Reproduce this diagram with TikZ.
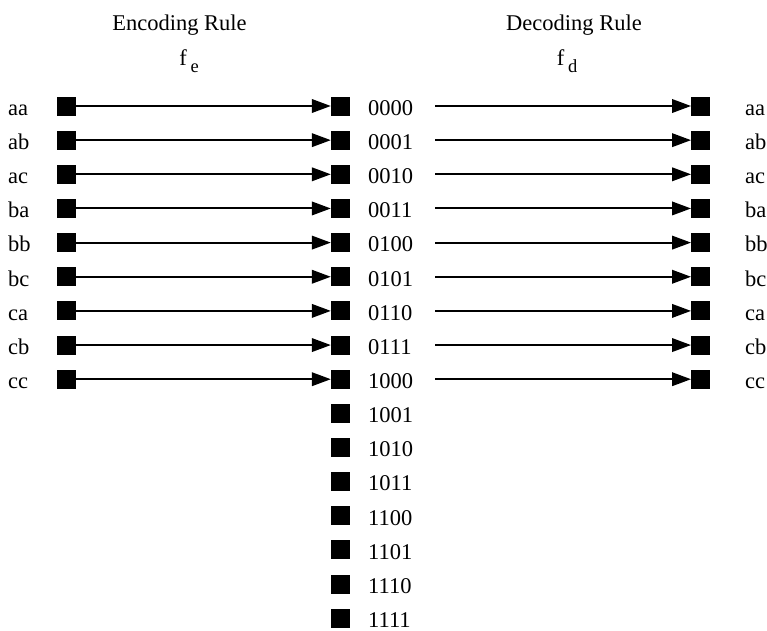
\documentclass[tikz,border=0pt]{standalone}
\usepackage{fontspec}
\setmainfont{Liberation Serif}
\usetikzlibrary{arrows.meta}
\begin{document}
\begin{tikzpicture}[x=1pt,y=-1pt,
  sq/.style={fill=black,draw=none,inner sep=0pt,minimum width=18.5pt,minimum height=19pt},
  lab/.style={anchor=base west,inner sep=0pt,font=\fontsize{22.5}{26}\selectfont},
  head/.style={anchor=base,inner sep=0pt,font=\fontsize{22.5}{26}\selectfont},
  conn/.style={line width=2pt,-{Triangle[length=19pt,width=13.5pt]}}]
\useasboundingbox (0,0) rectangle (767,630);
\node[head] (enc) at (179.5,30) {Encoding Rule};
\node[head] (dec) at (574,30) {Decoding Rule};
\node[head] (fe) at (189,65) {f\,\raisebox{-7.5pt}{\fontsize{18.5}{19}\selectfont e}};
\node[head] (fd) at (567,65) {f\,\raisebox{-7.5pt}{\fontsize{18.5}{19}\selectfont d}};
\foreach \t [count=\i from 0] in {aa,ab,ac,ba,bb,bc,ca,cb,cc}{
  \pgfmathsetmacro{\yy}{106+34.15*\i}
  \node[sq] (L\i) at (66.5,\yy) {};
  \node[lab] (LT\i) at (8,\yy+9.3) {\t};
  \node[sq] (R\i) at (700.5,\yy) {};
  \node[lab] (RT\i) at (745,\yy+9.3) {\t};
  \coordinate (S\i) at (435,\yy);
}
\foreach \t [count=\i from 0] in {0000,0001,0010,0011,0100,0101,0110,0111,1000,1001,1010,1011,1100,1101,1110,1111}{
  \pgfmathsetmacro{\yy}{106+34.15*\i}
  \node[sq] (M\i) at (340.3,\yy) {};
  \node[lab] (MT\i) at (368,\yy+9.3) {\t};
}
\foreach \i in {0,...,8}{
  \draw[conn] (L\i.east) -- (M\i.west);
  \draw[conn] (S\i) -- (R\i.west);
}
\end{tikzpicture}
\end{document}
